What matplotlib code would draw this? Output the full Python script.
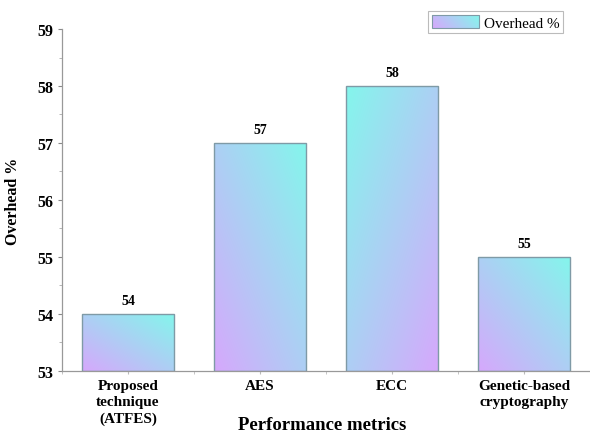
import numpy as np
import matplotlib
matplotlib.use("Agg")
import matplotlib.pyplot as plt
from matplotlib.legend_handler import HandlerBase
from matplotlib.image import BboxImage
from matplotlib.transforms import Bbox, TransformedBbox
from matplotlib.patches import Rectangle

categories = ["Proposed\ntechnique\n(ATFES)", "AES", "ECC", "Genetic-based\ncryptography"]
overhead = [54, 57, 58, 55]
# +1: violet at bottom-left; -1: violet at bottom-right
gradient_dir = [1, 1, -1, 1]
y_ticks = [53, 54, 55, 56, 57, 58, 59]

plt.rcParams["font.family"] = ["Liberation Serif", "DejaVu Serif"]
plt.rcParams["font.weight"] = "bold"

violet = np.array([214, 168, 252]) / 255.0
cyan = np.array([132, 246, 236]) / 255.0
edge = "#7f9aa6"


def gradient(direction, n=128):
    xs = np.linspace(0, 1, n)
    ys = np.linspace(0, 1, n)
    X, Y = np.meshgrid(xs, ys)
    if direction < 0:
        X = 1 - X
    t = np.clip((X + Y) / 2.0, 0, 1)[..., None]  # Y=0 at bottom with origin='lower'
    return violet * (1 - t) + cyan * t


fig = plt.figure(figsize=(5.9, 4.35), dpi=100)
ax = fig.add_axes([0.105, 0.145, 0.895, 0.786])

x = np.arange(len(categories))
width = 0.7
base = y_ticks[0]
bars = ax.bar(x, np.array(overhead) - base, bottom=base, width=width,
              facecolor="none", edgecolor=edge, linewidth=1.0, zorder=3)
for b, d, v in zip(bars, gradient_dir, overhead):
    x0 = b.get_x()
    im = ax.imshow(gradient(d), extent=[x0, x0 + width, base, v], origin="lower",
                   aspect="auto", zorder=2, interpolation="bilinear")
    im.set_clip_path(b)
    ax.text(b.get_x() + width / 2, v + 0.12, f"{v}", ha="center", va="bottom",
            fontsize=10, fontweight="bold")

ax.set_xlim(-0.5, 3.5)
ax.set_ylim(53, 59)
ax.set_yticks(y_ticks)
ax.set_yticks(np.arange(53.5, 59, 1.0), minor=True)
ax.set_xticks(x)
ax.set_xticklabels(categories, fontsize=11, fontweight="bold", linespacing=1.3)
ax.set_xticks(np.arange(-0.5, 3.6, 1.0), minor=True)
ax.tick_params(axis="y", labelsize=11.5, direction="out", length=3, color="#888888")
ax.tick_params(axis="y", which="minor", length=2, color="#aaaaaa")
ax.tick_params(axis="x", which="both", length=2, color="#bbbbbb", pad=4)
for lbl in ax.get_yticklabels():
    lbl.set_fontweight("bold")

for s in ("top", "right"):
    ax.spines[s].set_visible(False)
for s in ("left", "bottom"):
    ax.spines[s].set_color("#999999")
    ax.spines[s].set_linewidth(0.9)

ax.set_ylabel("Overhead %", fontsize=11.5, fontweight="bold", labelpad=3)
ax.yaxis.set_label_coords(-0.077, 0.5)
fig.text(0.546, 0.022, "Performance metrics", ha="center", va="center",
         fontsize=13.5, fontweight="bold")


class GradientHandler(HandlerBase):
    def create_artists(self, legend, orig_handle, xdescent, ydescent,
                       width, height, fontsize, trans):
        bb = Bbox.from_bounds(-xdescent, -ydescent, width, height)
        tbb = TransformedBbox(bb, trans)
        img = BboxImage(tbb, interpolation="bilinear", origin="lower")
        xs = np.linspace(0, 1, 64)
        X, Y = np.meshgrid(xs, np.linspace(0, 1, 16))
        t = np.clip(X * 0.8 + Y * 0.2, 0, 1)[..., None]
        img.set_data(violet * (1 - t) + cyan * t)
        frame = Rectangle((-xdescent, -ydescent), width, height,
                          facecolor="none", edgecolor=edge, linewidth=0.8,
                          transform=trans)
        return [img, frame]


handle = Rectangle((0, 0), 1, 1)
leg = fig.legend([handle], ["Overhead %"], handler_map={Rectangle: GradientHandler()},
                 loc="upper right", bbox_to_anchor=(0.955, 0.972),
                 fontsize=11, frameon=True, fancybox=False, borderpad=0.25,
                 borderaxespad=0, handlelength=3.1, handleheight=0.9,
                 handletextpad=0.3)
leg.get_frame().set_edgecolor("#aaaaaa")
leg.get_frame().set_linewidth(0.8)
for t in leg.get_texts():
    t.set_fontweight("normal")

fig.savefig("out.png", dpi=100)
